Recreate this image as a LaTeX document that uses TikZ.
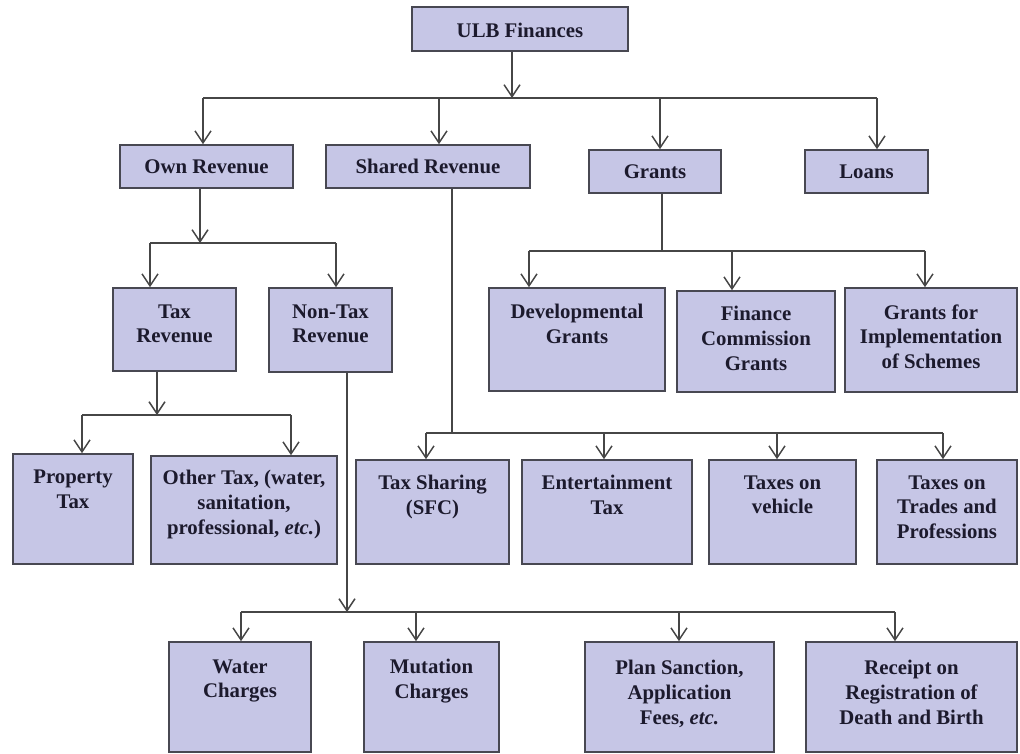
\documentclass[tikz,border=0pt]{standalone}
\usepackage{fontspec}
\setmainfont{Liberation Serif}
\usetikzlibrary{arrows.meta,fit,calc}
\definecolor{boxfill}{RGB}{198,198,230}
\definecolor{boxline}{RGB}{72,72,82}
\definecolor{lncol}{RGB}{70,70,70}
\definecolor{txtcol}{RGB}{28,26,45}
\newcommand{\lblfont}{\fontsize{15.6}{18.6}\selectfont\bfseries}
\begin{document}
\begin{tikzpicture}[x=0.75pt,y=-0.75pt,
  box/.style={draw=boxline, fill=boxfill, line width=1.2pt, inner sep=0pt},
  ctxt/.style={anchor=center, inner sep=0pt, text=txtcol, font=\lblfont},
  lbl/.style={anchor=north, align=center, inner sep=0pt, text=txtcol, font=\lblfont, execute at begin node=\strut},
  ln/.style={draw=lncol, line width=1.1pt},
  arr/.style={ln, -{Straight Barb[length=9pt,width=12pt]}}]
\fill[white] (0,0) rectangle (1020,753);
\useasboundingbox (0,0) rectangle (1020,753);

% boxes
\node[box, fit={(412,7) (628,51)}] (ulb) {};
\node[box, fit={(120,145) (293,188)}] (own) {};
\node[box, fit={(326,145) (530,188)}] (shared) {};
\node[box, fit={(589,150) (721,193)}] (grants) {};
\node[box, fit={(805,150) (928,193)}] (loans) {};

\node[box, fit={(113,288) (236,371)}] (taxrev) {};
\node[box, fit={(269,288) (392,372)}] (nontax) {};
\node[box, fit={(489,288) (665,391)}] (dev) {};
\node[box, fit={(677,291) (835,392)}] (fin) {};
\node[box, fit={(845,288) (1017,392)}] (gfi) {};

\node[box, fit={(13,454) (133,564)}] (prop) {};
\node[box, fit={(151,456) (337,564)}] (other) {};
\node[box, fit={(356,460) (509,564)}] (tsh) {};
\node[box, fit={(522,460) (692,564)}] (ent) {};
\node[box, fit={(709,460) (856,564)}] (veh) {};
\node[box, fit={(877,460) (1017,564)}] (trades) {};

\node[box, fit={(169,642) (311,752)}] (water) {};
\node[box, fit={(364,642) (499,752)}] (mut) {};
\node[box, fit={(585,642) (774,752)}] (plan) {};
\node[box, fit={(806,642) (1017,752)}] (rec) {};

% single-line labels
\node[ctxt] (ulbT) at ($(ulb.center)+(0,1.5)$) {ULB Finances};
\node[ctxt] (ownT) at ($(own.center)+(0,0)$) {Own Revenue};
\node[ctxt] (sharedT) at ($(shared.center)+(0,0)$) {Shared Revenue};
\node[ctxt] (grantsT) at ($(grants.center)+(0,0)$) {Grants};
\node[ctxt] (loansT) at ($(loans.center)+(0,0)$) {Loans};

% multi-line labels
\node[lbl] (taxrevT) at ($(taxrev.north)+(0,17)$) {Tax\\Revenue};
\node[lbl] (nontaxT) at ($(nontax.north)+(0,17)$) {Non-Tax\\Revenue};
\node[lbl] (devT) at ($(dev.north)+(0,17)$) {Developmental\\Grants};
\node[lbl] (finT) at ($(fin.north)+(0,15.5)$) {Finance\\Commission\\Grants};
\node[lbl] (gfiT) at ($(gfi.north)+(0,17)$) {Grants for\\Implementation\\of Schemes};
\node[lbl] (propT) at ($(prop.north)+(0,16.5)$) {Property\\Tax};
\node[lbl] (otherT) at ($(other.north)+(0,14.5)$) {Other Tax, (water,\\sanitation,\\professional, \textit{etc.})};
\node[lbl] (tshT) at ($(tsh.north)+(0,16)$) {Tax Sharing\\(SFC)};
\node[lbl] (entT) at ($(ent.north)+(0,16)$) {Entertainment\\Tax};
\node[lbl] (vehT) at ($(veh.north)+(0,16)$) {Taxes on\\vehicle};
\node[lbl] (tradesT) at ($(trades.north)+(0,16)$) {Taxes on\\Trades and\\Professions};
\node[lbl] (waterT) at ($(water.north)+(0,18)$) {Water\\Charges};
\node[lbl] (mutT) at ($(mut.north)+(0,18)$) {Mutation\\Charges};
\node[lbl] (planT) at ($(plan.north)+(0,18.5)$) {Plan Sanction,\\Application\\Fees, \textit{etc.}};
\node[lbl] (recT) at ($(rec.north)+(0,18.5)$) {Receipt on\\Registration of\\Death and Birth};

% junction coordinates
\coordinate (a0) at (512,98);
\coordinate (a1) at (203,98);
\coordinate (a2) at (439,98);
\coordinate (a3) at (660,98);
\coordinate (a4) at (877,98);

\coordinate (b0) at (200,243);
\coordinate (b1) at (150,243);
\coordinate (b2) at (336,243);

\coordinate (c0) at (662,251);
\coordinate (c1) at (529,251);
\coordinate (c2) at (732,251);
\coordinate (c3) at (925,251);

\coordinate (d0) at (452,433);
\coordinate (d1) at (426,433);
\coordinate (d2) at (604,433);
\coordinate (d3) at (777,433);
\coordinate (d4) at (943,433);

\coordinate (e0) at (157,415);
\coordinate (e1) at (82,415);
\coordinate (e2) at (291,415);

\coordinate (f0) at (347,612);
\coordinate (f1) at (241,612);
\coordinate (f2) at (416,612);
\coordinate (f3) at (679,612);
\coordinate (f4) at (895,612);

% ULB level
\draw[arr] (a0 |- ulb.south) -- (a0);
\draw[ln] (a1) -- (a4);
\draw[arr] (a1) -- (a1 |- own.north);
\draw[arr] (a2) -- (a2 |- shared.north);
\draw[arr] (a3) -- (a3 |- grants.north);
\draw[arr] (a4) -- (a4 |- loans.north);

% Own revenue
\draw[arr] (b0 |- own.south) -- (b0);
\draw[ln] (b1) -- (b2);
\draw[arr] (b1) -- (b1 |- taxrev.north);
\draw[arr] (b2) -- (b2 |- nontax.north);

% Grants
\draw[ln] (c0 |- grants.south) -- (c0);
\draw[ln] (c1) -- (c3);
\draw[arr] (c1) -- (c1 |- dev.north);
\draw[arr] (c2) -- (c2 |- fin.north);
\draw[arr] (c3) -- (c3 |- gfi.north);

% Shared revenue
\draw[ln] (d0 |- shared.south) -- (d0);
\draw[ln] (d1) -- (d4);
\draw[arr] (d1) -- (d1 |- tsh.north);
\draw[arr] (d2) -- (d2 |- ent.north);
\draw[arr] (d3) -- (d3 |- veh.north);
\draw[arr] (d4) -- (d4 |- trades.north);

% Tax revenue
\draw[arr] (e0 |- taxrev.south) -- (e0);
\draw[ln] (e1) -- (e2);
\draw[arr] (e1) -- (e1 |- prop.north);
\draw[arr] (e2) -- (e2 |- other.north);

% Non-tax revenue
\draw[arr] (f0 |- nontax.south) -- (f0);
\draw[ln] (f1) -- (f4);
\draw[arr] (f1) -- (f1 |- water.north);
\draw[arr] (f2) -- (f2 |- mut.north);
\draw[arr] (f3) -- (f3 |- plan.north);
\draw[arr] (f4) -- (f4 |- rec.north);
\end{tikzpicture}
\end{document}
